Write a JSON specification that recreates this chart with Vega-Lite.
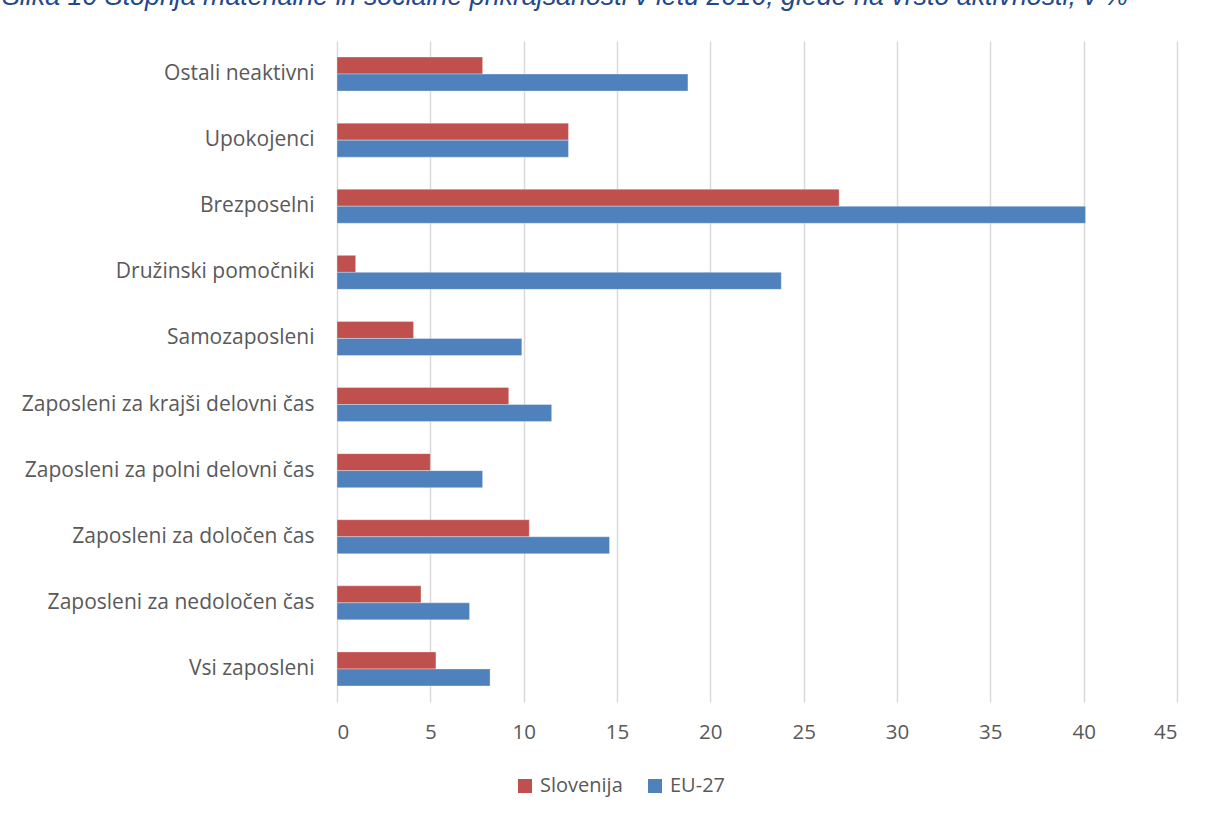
{
  "$schema": "https://vega.github.io/schema/vega-lite/v6.json",
  "autosize": {"type": "none"},
  "padding": {"left": 337, "top": 41, "right": 30, "bottom": 115},
  "width": 840,
  "height": 661,
  "background": "white",
  "title": {
    "text": "Slika 10 Stopnja materialne in socialne prikrajšanosti v letu 2016, glede na vrsto aktivnosti, v %",
    "anchor": "start",
    "frame": "group",
    "dx": -335,
    "offset": 3.5,
    "baseline": "bottom",
    "font": "Liberation Sans",
    "fontStyle": "italic",
    "fontWeight": "normal",
    "fontSize": 26.8,
    "color": "#24498A"
  },
  "data": {
    "values": [
      {"kat": "Ostali neaktivni", "serija": "Slovenija", "v": 7.8},
      {"kat": "Ostali neaktivni", "serija": "EU-27", "v": 18.8},
      {"kat": "Upokojenci", "serija": "Slovenija", "v": 12.4},
      {"kat": "Upokojenci", "serija": "EU-27", "v": 12.4},
      {"kat": "Brezposelni", "serija": "Slovenija", "v": 26.9},
      {"kat": "Brezposelni", "serija": "EU-27", "v": 40.1},
      {"kat": "Družinski pomočniki", "serija": "Slovenija", "v": 1.0},
      {"kat": "Družinski pomočniki", "serija": "EU-27", "v": 23.8},
      {"kat": "Samozaposleni", "serija": "Slovenija", "v": 4.1},
      {"kat": "Samozaposleni", "serija": "EU-27", "v": 9.9},
      {"kat": "Zaposleni za krajši delovni čas", "serija": "Slovenija", "v": 9.2},
      {"kat": "Zaposleni za krajši delovni čas", "serija": "EU-27", "v": 11.5},
      {"kat": "Zaposleni za polni delovni čas", "serija": "Slovenija", "v": 5.0},
      {"kat": "Zaposleni za polni delovni čas", "serija": "EU-27", "v": 7.8},
      {"kat": "Zaposleni za določen čas", "serija": "Slovenija", "v": 10.3},
      {"kat": "Zaposleni za določen čas", "serija": "EU-27", "v": 14.6},
      {"kat": "Zaposleni za nedoločen čas", "serija": "Slovenija", "v": 4.5},
      {"kat": "Zaposleni za nedoločen čas", "serija": "EU-27", "v": 7.1},
      {"kat": "Vsi zaposleni", "serija": "Slovenija", "v": 5.3},
      {"kat": "Vsi zaposleni", "serija": "EU-27", "v": 8.2}
    ]
  },
  "mark": {"type": "bar", "stroke": "white", "strokeOpacity": 0.4, "strokeWidth": 0.8},
  "encoding": {
    "y": {
      "field": "kat",
      "type": "nominal",
      "sort": null,
      "scale": {"paddingInner": 0.485, "paddingOuter": 0.2425},
      "axis": {
        "title": null,
        "domain": false,
        "ticks": false,
        "labelPadding": 23,
        "labelLimit": 0,
        "labelFont": "Open Sans",
        "labelFontSize": 21,
        "labelColor": "#595959",
        "grid": false
      }
    },
    "yOffset": {
      "field": "serija",
      "type": "nominal",
      "sort": ["Slovenija", "EU-27"],
      "scale": {"paddingInner": 0, "paddingOuter": 0}
    },
    "x": {
      "field": "v",
      "type": "quantitative",
      "scale": {"domain": [0, 45], "nice": false},
      "axis": {
        "title": null,
        "values": [0, 5, 10, 15, 20, 25, 30, 35, 40, 45],
        "domain": false,
        "ticks": false,
        "grid": true,
        "gridColor": "#D9D9D9",
        "gridWidth": 1.5,
        "labelPadding": 20,
        "labelFont": "Open Sans",
        "labelFontSize": 20.5,
        "labelColor": "#595959"
      }
    },
    "color": {
      "field": "serija",
      "type": "nominal",
      "sort": ["Slovenija", "EU-27"],
      "scale": {"domain": ["Slovenija", "EU-27"], "range": ["#C0504D", "#4F81BD"]},
      "legend": {
        "title": null,
        "orient": "none",
        "direction": "horizontal",
        "legendX": 178,
        "legendY": 735,
        "symbolType": "square",
        "symbolSize": 196,
        "symbolStrokeWidth": 0,
        "symbolOpacity": 1,
        "labelFont": "Open Sans",
        "labelFontSize": 20,
        "labelColor": "#595959",
        "labelOffset": 5,
        "columnPadding": 22
      }
    }
  },
  "config": {"view": {"stroke": null}}
}
